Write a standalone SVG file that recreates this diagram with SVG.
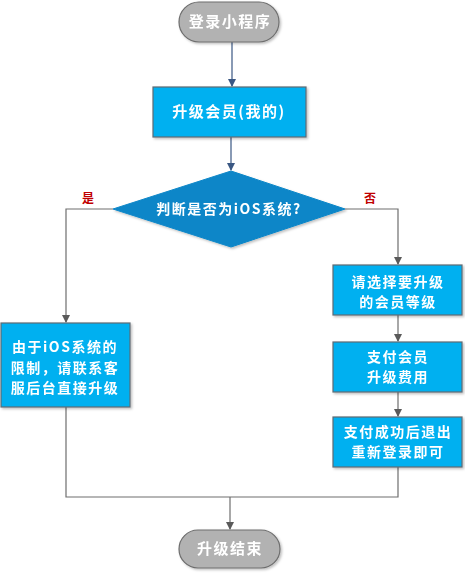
<svg xmlns="http://www.w3.org/2000/svg" width="465" height="573" viewBox="0 0 465 573">
<style>
.box{fill:#00B0F0;stroke:#5f6b73;stroke-width:1.2}
.term{fill:#b2b2b2;stroke:#6e6e6e;stroke-width:1.2}
.dia{fill:#0a86c8;stroke:#0a86c8;stroke-width:1}
.t{font-family:"Noto Sans CJK SC","Liberation Sans",sans-serif;font-weight:bold;font-size:14px;fill:#ffffff;text-anchor:middle;letter-spacing:1.5px}
.lbl{font-family:"Noto Sans CJK SC","Liberation Sans",sans-serif;font-weight:bold;font-size:12px;fill:#c00000;text-anchor:middle}
.c{fill:none;stroke:#6e6e6e;stroke-width:1.2}
.cb{fill:none;stroke:#3a5783;stroke-width:1.2}
</style>
<defs>
<marker id="ag" markerWidth="8" markerHeight="8" refX="7" refY="4" orient="auto" markerUnits="userSpaceOnUse"><path d="M0,0 L8,4 L0,8 Z" fill="#5a5a5a"/></marker>
<marker id="ab" markerWidth="8" markerHeight="8" refX="7" refY="4" orient="auto" markerUnits="userSpaceOnUse"><path d="M0,0 L8,4 L0,8 Z" fill="#3a5783"/></marker>
<filter id="sh" x="-10%" y="-10%" width="130%" height="140%"><feDropShadow dx="1.5" dy="1.5" stdDeviation="1" flood-color="#000" flood-opacity="0.25"/></filter>
</defs>
<g id="connectors">
<path class="cb" d="M232,42 L232,86" marker-end="url(#ab)"/>
<path class="cb" d="M231,137 L231,170" marker-end="url(#ab)"/>
<path class="c" d="M113,209 L66,209 L66,322" marker-end="url(#ag)"/>
<path class="c" d="M345,209 L398,209 L398,264" marker-end="url(#ag)"/>
<path class="c" d="M398,315 L398,341" marker-end="url(#ag)"/>
<path class="c" d="M398,392 L398,416" marker-end="url(#ag)"/>
<path class="c" d="M66,407 L66,497 L398,497 L398,467"/>
<path class="c" d="M230,497 L230,529" marker-end="url(#ag)"/>
<text class="lbl" x="88" y="203">是</text>
<text class="lbl" x="370" y="203">否</text>
</g>
<g id="start" filter="url(#sh)">
<rect class="term" x="179" y="2" width="100" height="40" rx="20"/>
<text class="t" x="230" y="27" style="font-size:15px">登录小程序</text>
</g>
<g id="upgrade" filter="url(#sh)">
<rect class="box" x="153" y="87" width="153" height="50"/>
<text class="t" x="229" y="117" style="font-size:15px">升级会员(我的)</text>
</g>
<g id="decision" filter="url(#sh)">
<polygon class="dia" points="231,171 345,209 231,247 113,209"/>
<text class="t" x="229" y="214">判断是否为iOS系统?</text>
</g>
<g id="ios" filter="url(#sh)">
<rect class="box" x="1" y="323" width="129" height="84"/>
<text class="t" x="65" y="352">由于iOS系统的</text>
<text class="t" x="65" y="373">限制，请联系客</text>
<text class="t" x="65" y="393">服后台直接升级</text>
</g>
<g id="choose" filter="url(#sh)">
<rect class="box" x="333" y="265" width="129" height="50"/>
<text class="t" x="398" y="287">请选择要升级</text>
<text class="t" x="398" y="307">的会员等级</text>
</g>
<g id="pay" filter="url(#sh)">
<rect class="box" x="333" y="342" width="129" height="50"/>
<text class="t" x="398" y="362">支付会员</text>
<text class="t" x="398" y="382">升级费用</text>
</g>
<g id="relogin" filter="url(#sh)">
<rect class="box" x="333" y="417" width="129" height="50"/>
<text class="t" x="398" y="437">支付成功后退出</text>
<text class="t" x="398" y="457">重新登录即可</text>
</g>
<g id="end" filter="url(#sh)">
<rect class="term" x="179" y="530" width="101" height="38" rx="19"/>
<text class="t" x="230" y="554" style="font-size:15px">升级结束</text>
</g>
</svg>
